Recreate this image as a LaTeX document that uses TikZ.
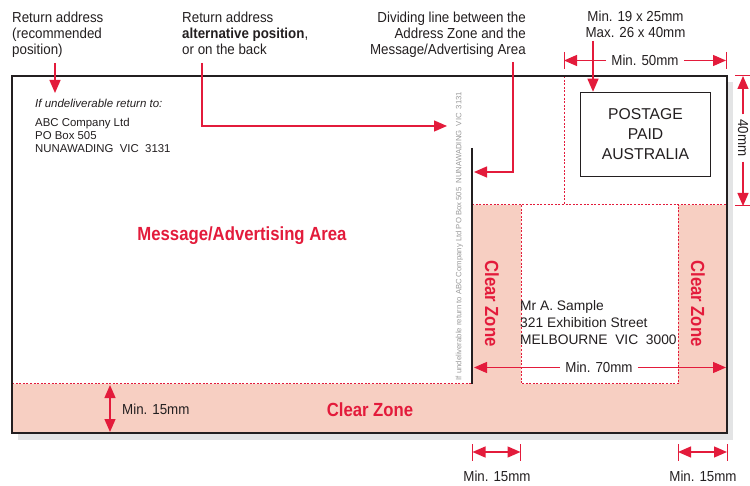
\documentclass[tikz,border=0pt]{standalone}
\usepackage{fontspec}
\setmainfont{Liberation Sans}
\newfontfamily\condfont[FakeStretch=0.88]{Liberation Sans}
\newfontfamily\annfont[FakeStretch=0.92]{Liberation Sans}
\usetikzlibrary{arrows.meta}
\definecolor{apred}{HTML}{E31B3B}
\definecolor{appink}{HTML}{F7CFC2}
\definecolor{shadowgrey}{HTML}{E3E4E5}
\definecolor{ink}{HTML}{231F20}
\definecolor{faint}{HTML}{9A9A9A}
\tikzset{
  envline/.style={draw=ink, line width=1.8pt},
  czdots/.style={draw=apred, line width=1pt, dash pattern=on 2pt off 1.6pt},
  leader/.style={draw=apred, line width=1.3pt},
  tick/.style={draw=apred, line width=1pt},
  tipend/.style={-{Triangle[length=13pt,width=11pt]}},
  dimboth/.style={leader, {Triangle[length=13pt,width=11pt]}-{Triangle[length=13pt,width=11pt]}},
  annot/.style={font=\annfont\fontsize{14.5}{16}\selectfont, text=ink, inner sep=0pt},
  dimlabel/.style={annot, inner xsep=5pt},
  redtitle/.style={font=\condfont\bfseries\fontsize{19}{22}\selectfont, text=apred, inner sep=0pt},
}
\begin{document}
\begin{tikzpicture}[x=1pt,y=-1pt]
\useasboundingbox (0,0) rectangle (750,486);
% shadow and envelope
\fill[shadowgrey] (18,82) rectangle (733,440);
\fill[white] (12,76) rectangle (727,433);
% clear zone
\fill[appink] (12,384) -- (472,384) -- (472,205) -- (521,205) -- (521,384) -- (678,384)
  -- (678,205) -- (727,205) -- (727,433) -- (12,433) -- cycle;
\draw[czdots] (12,384) -- (472,384);
\draw[czdots] (472,205) -- (727,205);
\draw[czdots] (564,76) -- (564,205);
\draw[czdots] (521,205) -- (521,384) -- (678,384) -- (678,205);
\draw[envline] (12,76) rectangle (727,433);
% dividing line
\coordinate (divtop) at (472,148);
\coordinate (divbot) at (472,384);
\draw[draw=ink, line width=1.5pt] (divtop) -- (divbot);

% postage box
\node[draw=ink, line width=1.5pt, minimum width=130pt, minimum height=84pt, inner sep=0pt,
  align=center, text=ink, font=\fontsize{15.7}{20}\selectfont] (postage) at (645.5,134.5)
  {POSTAGE\\PAID\\AUSTRALIA};

% top annotations
\node[annot, anchor=north west, align=left] (retrec) at (12,12) {Return address\\(recommended\\position)};
\node[annot, anchor=north west, align=left] (retalt) at (182,12) {Return address\\\textbf{alternative position},\\or on the back};
\node[annot, anchor=north east, align=right] (divtext) at (526,11.5) {Dividing line between the\\Address Zone and the\\Message/Advertising Area};
\node[annot, anchor=north, align=center] (stampsize) at (635.5,11) {Min. 19 x 25mm\\Max. 26 x 40mm};

% leaders
\coordinate (r1a) at (55,63);
\coordinate (r1b) at (55,93);
\draw[leader, tipend] (r1a) -- (r1b);
\coordinate (a1) at (202,63);
\coordinate (a2) at (202,126);
\coordinate (a3) at (447,126);
\draw[leader, tipend] (a1) -- (a2) -- (a3);
\coordinate (d1) at (513,62);
\coordinate (d2) at (513,172);
\coordinate (d3) at (474,172);
\draw[leader, tipend] (d1) -- (d2) -- (d3);
\coordinate (s1) at (593,41);
\draw[leader, tipend] (s1) -- (postage.north -| s1);

% Min. 50mm
\node[dimlabel] (m50) at (645,60.5) {Min. 50mm};
\coordinate (m50L) at (564,60.5);
\coordinate (m50R) at (726,60.5);
\draw[leader, tipend] (m50.west) -- (m50L);
\draw[leader, tipend] (m50.east) -- (m50R);
\draw[tick] (564,52) -- (564,69);
\draw[tick] (726,52) -- (726,69);

% 40mm
\node[dimlabel, rotate=-90] (m40) at (743,138) {40mm};
\coordinate (m40T) at (743,76);
\coordinate (m40B) at (743,206);
\draw[leader, tipend] (m40.west) -- (m40T);
\draw[leader, tipend] (m40.east) -- (m40B);
\draw[tick] (735,76) -- (750,76);
\draw[tick] (735,206) -- (750,206);

% return address block
\node[anchor=base west, inner sep=0pt, text=ink, font=\itshape\fontsize{11.5}{13}\selectfont] (undel) at (35,107.3) {If undeliverable return to:};
\node[anchor=north west, align=left, inner sep=0pt, text=ink, font=\fontsize{11.4}{13.2}\selectfont] (abc) at (35,117.7)
  {ABC Company Ltd\\PO Box 505\\NUNAWADING\ \ VIC\ \ 3131};

% rotated alternative return address
\node[rotate=90, inner sep=0pt, text=faint, font=\fontsize{7.7}{9}\selectfont] (rotret) at (459.5,236)
  {If undeliverable return to ABC Company Ltd PO Box 505\ \ NUNAWADING\ \ VIC\ \ 3131};

% delivery address
\node[anchor=north west, align=left, inner sep=0pt, text=ink, font=\fontsize{13.8}{17}\selectfont] (addr) at (520,300.6)
  {Mr A. Sample\\321 Exhibition Street\\MELBOURNE\ \ VIC\ \ 3000};

% titles
\node[redtitle, anchor=base] (msg) at (242,241) {Message/Advertising Area};
\node[redtitle, anchor=base] (czb) at (370,416) {Clear Zone};
\node[redtitle, rotate=-90] (czl) at (492,303.5) {Clear Zone};
\node[redtitle, rotate=-90] (czr) at (698,303.5) {Clear Zone};

% Min. 70mm
\node[dimlabel] (m70) at (599,367.5) {Min. 70mm};
\coordinate (m70L) at (474,367.5);
\coordinate (m70R) at (726,367.5);
\draw[leader, tipend] (m70.west) -- (m70L);
\draw[leader, tipend] (m70.east) -- (m70R);

% Min. 15mm (vertical)
\coordinate (v15T) at (110,385);
\coordinate (v15B) at (110,432);
\draw[dimboth] (v15T) -- (v15B);
\node[annot, anchor=base west] (v15) at (122,414) {Min. 15mm};

% bottom Min. 15mm
\coordinate (b1L) at (472.5,452);
\coordinate (b1R) at (520.5,452);
\draw[dimboth] (b1L) -- (b1R);
\draw[tick] (472.5,444) -- (472.5,461);
\draw[tick] (520.5,444) -- (520.5,461);
\node[annot, anchor=base] (b1) at (497,481) {Min. 15mm};
\coordinate (b2L) at (678,452);
\coordinate (b2R) at (727,452);
\draw[dimboth] (b2L) -- (b2R);
\draw[tick] (678,444) -- (678,461);
\draw[tick] (727,444) -- (727,461);
\node[annot, anchor=base] (b2) at (703,481) {Min. 15mm};
\end{tikzpicture}
\end{document}
